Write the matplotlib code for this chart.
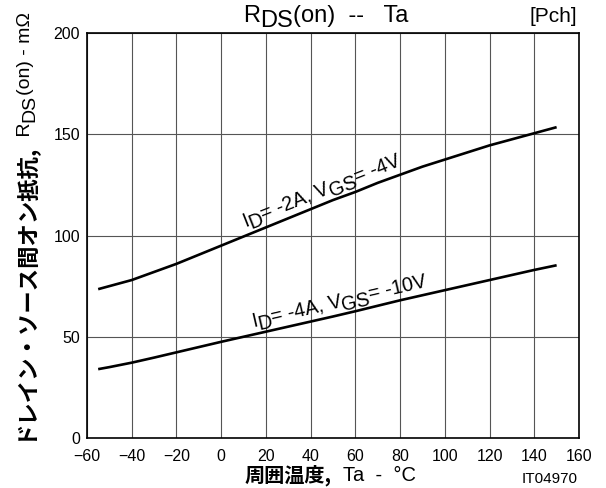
import numpy as np
import matplotlib.pyplot as plt
from matplotlib.transforms import offset_copy

plt.rcParams['font.family'] = ['Liberation Sans', 'Noto Sans CJK JP', 'DejaVu Sans']

# 周囲温度 Ta (°C)
ta = [-55, -50, -40, -30, -20, -10, 0, 10, 20, 30, 40, 50,
      60, 70, 80, 90, 100, 110, 120, 130, 140, 150]
# ID=-2A, VGS=-4V
r_4v = [73.5, 75, 78, 82, 86, 90.5, 95, 99.5, 104, 108.5, 113, 117.5,
        121.5, 126, 130, 134, 137.5, 141, 144.5, 147.5, 150.5, 153.5]
# ID=-4A, VGS=-10V
r_10v = [34, 35, 37.2, 39.7, 42.3, 44.9, 47.5, 50, 52.5, 55, 57.5, 60,
         62.6, 65.3, 68, 70.5, 73, 75.5, 78, 80.5, 83, 85.3]

xticks = list(range(-60, 161, 20))
yticks = [0, 50, 100, 150, 200]

W, H = 606, 488
fig = plt.figure(figsize=(W / 100, H / 100), dpi=100)
ax = fig.add_axes([87 / W, 50 / H, 492 / W, 405 / H])
renderer = fig.canvas.get_renderer()

JP = ['Noto Sans CJK JP']


def chain(x, y, pieces, transform, rot=0):
    """連続したテキスト片を並べる (pieces: (文字列, ベースラインずれ px, 書式))"""
    a = np.deg2rad(rot)
    pos = 0.0
    for s, shift, kw in pieces:
        dx = pos * np.cos(a) - shift * np.sin(a)
        dy = pos * np.sin(a) + shift * np.cos(a)
        tr = offset_copy(transform, fig=fig, x=dx, y=dy, units='dots')
        fig.text(x, y, s, transform=tr, rotation=rot, rotation_mode='anchor',
                 ha='left', va='baseline', **kw)
        tmp = fig.text(0, 0, s, **kw)
        pos += tmp.get_window_extent(renderer).width
        tmp.remove()


ax.plot(ta, r_4v, color='black', lw=1.9, solid_capstyle='butt')
ax.plot(ta, r_10v, color='black', lw=1.9, solid_capstyle='butt')

ax.set_xlim(-60, 160)
ax.set_ylim(0, 200)
ax.set_xticks(xticks)
ax.set_xticklabels([str(v).replace('-', '\u2212') for v in xticks])
ax.set_yticks(yticks)
ax.tick_params(length=0, labelsize=11.5)
ax.tick_params(axis='x', pad=8)
ax.tick_params(axis='y', pad=5)
ax.grid(True, color='#555555', lw=0.8)
for s in ax.spines.values():
    s.set_linewidth(1.2)

f_lab = dict(fontsize=14.2)
chain(10.7, 104.2, [('I', 0, f_lab), ('D', -4, f_lab), ('= -2A, V', 0, f_lab),
                    ('GS', -4, f_lab), ('= -4V', 0, f_lab)], ax.transData, rot=21.5)
chain(14.2, 54.6, [('I', 0, f_lab), ('D', -4, f_lab), ('= -4A, V', 0, f_lab),
                   ('GS', -4, f_lab), ('= -10V', 0, f_lab)], ax.transData, rot=13)

# タイトル
f_t = dict(fontsize=17)
chain(243 / W, 1 - 22 / H, [('R', 0, f_t), ('DS', -5, f_t), ('(on)  --   Ta', 0, f_t)],
      fig.transFigure)
fig.text(577 / W, 1 - 22 / H, '[Pch]', ha='right', va='baseline', fontsize=15)

# 縦軸ラベル
f_jb = dict(fontsize=16.1, fontweight='bold', family=JP)
f_r = dict(fontsize=14)
chain(30 / W, 48 / H, [('ドレイン・ソース間オン抵抗,', 0, f_jb), (' R', 0, f_r),
                       ('DS', -4, f_r), ('(on) - mΩ', 0, f_r)], fig.transFigure, rot=90)

# 横軸ラベル
f_x = dict(fontsize=14.5)
chain(245 / W, 7 / H, [('周囲温度,', 0, dict(fontsize=14.5, fontweight='bold', family=JP)),
                       ('  Ta  -  °C', 0, f_x)], fig.transFigure)
fig.text(578 / W, 5 / H, 'IT04970', ha='right', va='baseline', fontsize=11)

fig.savefig('out.png', dpi=100)
